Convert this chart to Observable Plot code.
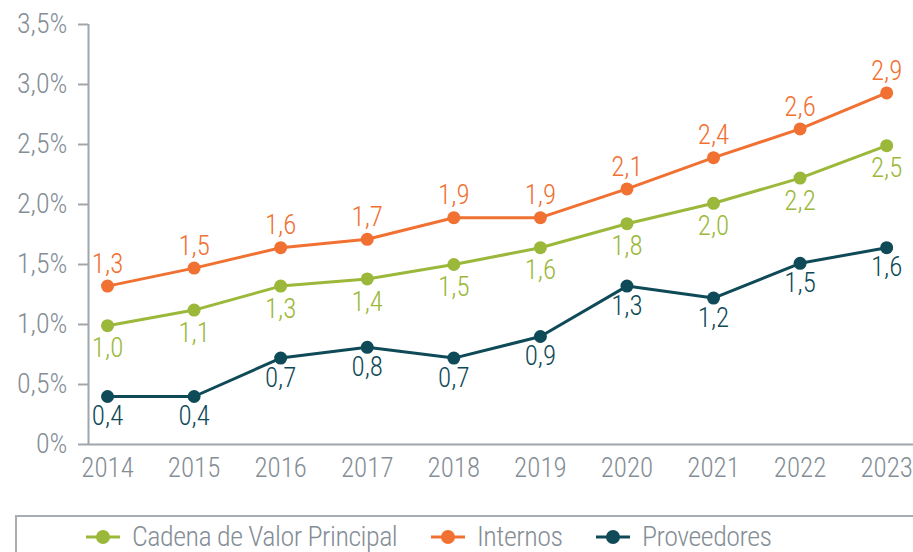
<!DOCTYPE html>
<html>
<head>
<meta charset="utf-8">
<script src="https://cdn.jsdelivr.net/npm/d3@7"></script>
<script src="https://cdn.jsdelivr.net/npm/@observablehq/plot@0.6"></script>
<style>
  html, body { margin: 0; padding: 0; background: #fff; }
  body { width: 913px; height: 552px; overflow: hidden; font-family: Roboto, sans-serif; font-stretch: 75%; font-weight: 300; }
  #chart svg { display: block; font-stretch: 75%; font-weight: 300; }
  #chart svg text { font-stretch: 75%; font-weight: 300; }
  #legend { position: absolute; left: 15px; top: 515px; width: 960px; height: 60px; border: 2px solid #a9adb1; box-sizing: border-box; }
  .item { position: absolute; top: 5px; height: 30px; display: flex; align-items: center; color: #858e96; font-size: 28px; line-height: 1; letter-spacing: -0.5px; }
  .item svg { margin-right: 11px; }
</style>
</head>
<body>
<div id="chart"></div>
<div id="legend"></div>
<script>
const years = [2014, 2015, 2016, 2017, 2018, 2019, 2020, 2021, 2022, 2023];
const cadena = [0.99, 1.12, 1.32, 1.38, 1.50, 1.64, 1.84, 2.01, 2.22, 2.49];
const internos = [1.32, 1.47, 1.64, 1.71, 1.89, 1.89, 2.13, 2.39, 2.63, 2.93];
const proveedores = [0.40, 0.40, 0.72, 0.81, 0.72, 0.90, 1.32, 1.22, 1.51, 1.64];
const seriesNames = ["Cadena de Valor Principal", "Internos", "Proveedores"];
const seriesColors = ["#9bb83a", "#f07132", "#0f4a58"];
const yTicks = [0, 0.5, 1, 1.5, 2, 2.5, 3, 3.5];

const seriesValues = [cadena, internos, proveedores];
const data = [];
seriesNames.forEach((name, i) => {
  years.forEach((yr, j) => data.push({series: name, year: yr, value: seriesValues[i][j]}));
});
const fmt = v => v.toFixed(1).replace(".", ",");
const pct = v => (v === 0 ? "0" : v.toFixed(1).replace(".", ",")) + "%";
const labelDy = {"Cadena de Valor Principal": 23, "Internos": -22, "Proveedores": 20};

const xDomain = [2013.78, 2023.31];

const chart = Plot.plot({
  width: 913,
  height: 500,
  marginLeft: 88,
  marginRight: 0,
  marginTop: 24,
  marginBottom: 56,
  style: {fontFamily: "Roboto, sans-serif", fontSize: "28px", color: "#858e96", background: "#fff"},
  x: {domain: xDomain, label: null},
  y: {domain: [0, 3.5], label: null},
  marks: [
    Plot.axisY({ticks: yTicks, tickFormat: pct, tickSize: 10, tickPadding: 11, stroke: "#a0a6ab", strokeWidth: 2, fill: "#858e96", fontSize: 28, label: null}),
    Plot.axisX({ticks: years, tickFormat: d => String(d), tickSize: 0, tickPadding: 13, fill: "#858e96", fontSize: 27, label: null}),
    Plot.ruleX([xDomain[0]], {stroke: "#a0a6ab", strokeWidth: 2}),
    Plot.ruleY([0], {stroke: "#a0a6ab", strokeWidth: 2}),
    ...seriesNames.map((name, i) =>
      Plot.line(data.filter(d => d.series === name), {x: "year", y: "value", stroke: seriesColors[i], strokeWidth: 3})
    ),
    ...seriesNames.map((name, i) =>
      Plot.dot(data.filter(d => d.series === name), {x: "year", y: "value", fill: seriesColors[i], r: 6.5})
    ),
    ...seriesNames.map((name, i) =>
      Plot.text(data.filter(d => d.series === name), {x: "year", y: "value", text: d => fmt(d.value), fill: seriesColors[i], dy: labelDy[name], fontSize: 27})
    )
  ]
});
document.getElementById("chart").appendChild(chart);

const legend = document.getElementById("legend");
const positions = [68, 413, 578];
seriesNames.forEach((name, i) => {
  const div = document.createElement("div");
  div.className = "item";
  div.style.left = positions[i] + "px";
  div.innerHTML = `<svg width="36" height="20"><line x1="1" y1="10" x2="35" y2="10" stroke="${seriesColors[i]}" stroke-width="3"/><circle cx="18" cy="10" r="7" fill="${seriesColors[i]}"/></svg><span>${name}</span>`;
  legend.appendChild(div);
});
</script>
</body>
</html>
